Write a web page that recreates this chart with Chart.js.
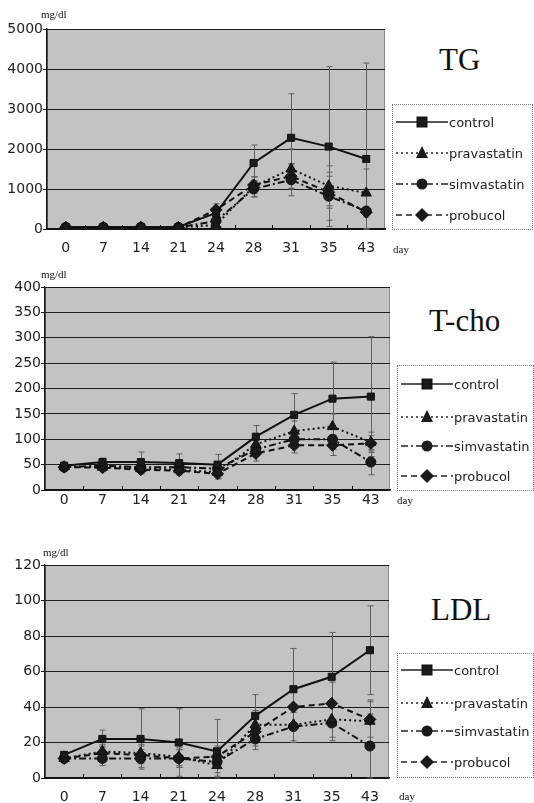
<!DOCTYPE html>
<html><head><meta charset="utf-8">
<script src="https://cdn.jsdelivr.net/npm/chart.js@4/dist/chart.umd.min.js"></script>
<style>
body{margin:0;background:#fff;}
#wrap{position:relative;width:534px;height:803px;overflow:hidden;background:#fff;}
canvas{position:absolute;left:0;}
.t{position:absolute;font-family:'Liberation Serif','DejaVu Serif',serif;color:#111;white-space:nowrap;line-height:1;}
.title{font-size:31px;}
.small{font-size:11px;}
.leg{position:absolute;border:1px dotted #777;box-sizing:border-box;}
.item{position:absolute;left:3px;height:16px;display:flex;align-items:center;white-space:nowrap;font-family:'DejaVu Sans',sans-serif;font-size:13px;color:#222;}
.item svg{flex:none;margin-right:1px;}
</style></head>
<body><div id="wrap">
<canvas id="c1" width="397" height="262" style="top:0px"></canvas>
<canvas id="c2" width="397" height="250" style="top:270px"></canvas>
<canvas id="c3" width="397" height="258" style="top:545px"></canvas>
</div>
<script>
// ---- data ----
const days = ['0','7','14','21','24','28','31','35','43'];
const seriesNames = ['control','pravastatin','simvastatin','probucol'];

const tgControl     = [50, 50, 50, 50, 400, 1650, 2280, 2060, 1750];
const tgPravastatin = [40, 40, 40, 40, 100, 1060, 1500, 1080, 900];
const tgSimvastatin = [40, 40, 40, 40, 200, 1000, 1230, 820, 450];
const tgProbucol    = [40, 40, 40, 40, 480, 1100, 1320, 920, 420];
const tgControlSD     = [20, 20, 20, 20, 150, 450, 1100, 2000, 2400];
const tgPravastatinSD = [10, 10, 10, 10, 80, 250, 500, 500, 600];
const tgSimvastatinSD = [10, 10, 10, 10, 100, 200, 400, 600, 450];
const tgProbucolSD    = [10, 10, 10, 10, 150, 200, 300, 400, 500];

const tchoControl     = [48, 55, 55, 53, 50, 105, 148, 180, 184];
const tchoPravastatin = [46, 45, 42, 40, 35, 90, 116, 125, 94];
const tchoSimvastatin = [45, 48, 45, 45, 42, 80, 100, 100, 55];
const tchoProbucol    = [45, 44, 40, 38, 32, 72, 88, 88, 92];
const tchoControlSD     = [5, 8, 20, 18, 20, 22, 42, 72, 118];
const tchoPravastatinSD = [5, 8, 10, 10, 12, 15, 20, 25, 20];
const tchoSimvastatinSD = [5, 8, 10, 10, 12, 12, 15, 20, 25];
const tchoProbucolSD    = [5, 5, 8, 8, 10, 15, 15, 20, 15];

const ldlControl     = [13, 22, 22, 20, 15, 35, 50, 57, 72];
const ldlPravastatin = [11, 15, 14, 12, 7, 30, 30, 33, 32];
const ldlSimvastatin = [11, 11, 11, 11, 9, 22, 29, 31, 18];
const ldlProbucol    = [11, 14, 13, 11, 12, 26, 40, 42, 33];
const ldlControlSD     = [2, 5, 17, 19, 18, 12, 23, 25, 25];
const ldlPravastatinSD = [2, 4, 5, 5, 6, 8, 10, 10, 12];
const ldlSimvastatinSD = [2, 4, 5, 5, 6, 6, 8, 10, 18];
const ldlProbucolSD    = [2, 4, 5, 5, 6, 8, 10, 12, 10];

const tgTicks = {max: 5000, step: 1000};
const tchoTicks = {max: 400, step: 50};
const ldlTicks = {max: 120, step: 20};

// ---- styles ----
const styles = [
  {dash: [], point: 'rect', r: 5},
  {dash: [2, 3], point: 'triangle', r: 6},
  {dash: [7, 3, 2, 3], point: 'circle', r: 5},
  {dash: [6, 4], point: 'rectRot', r: 6}
];

const bgPlugin = {
  id: 'bg',
  beforeDraw(chart) {
    const a = chart.chartArea, ctx = chart.ctx;
    ctx.save();
    ctx.fillStyle = '#c3c3c3';
    ctx.fillRect(a.left, a.top, a.right - a.left, a.bottom - a.top);
    ctx.strokeStyle = '#8a8a8a';
    ctx.lineWidth = 1;
    ctx.strokeRect(a.left + 0.5, a.top + 0.5, a.right - a.left - 1, a.bottom - a.top);
    ctx.restore();
  }
};

const errPlugin = {
  id: 'err',
  beforeDatasetsDraw(chart) {
    const ctx = chart.ctx, xs = chart.scales.x, ys = chart.scales.y, a = chart.chartArea;
    ctx.save();
    ctx.beginPath();
    ctx.rect(a.left, a.top - 2, a.right - a.left, a.bottom - a.top + 4);
    ctx.clip();
    ctx.strokeStyle = '#5e5e5e';
    ctx.lineWidth = 1;
    chart.data.datasets.forEach(ds => {
      ds.data.forEach((v, i) => {
        const e = ds.errors[i];
        const x = Math.round(xs.getPixelForValue(i)) + 0.5;
        const y1 = ys.getPixelForValue(v + e);
        const y2 = ys.getPixelForValue(Math.max(0, v - e));
        ctx.beginPath();
        ctx.moveTo(x, y1); ctx.lineTo(x, y2);
        ctx.moveTo(x - 3, y1); ctx.lineTo(x + 3, y1);
        ctx.moveTo(x - 3, y2); ctx.lineTo(x + 3, y2);
        ctx.stroke();
      });
    });
    ctx.restore();
  },
  afterDraw(chart) {
    const ctx = chart.ctx, xs = chart.scales.x, a = chart.chartArea;
    ctx.save();
    ctx.strokeStyle = '#111';
    ctx.lineWidth = 1;
    for (let i = 0; i < days.length - 1; i++) {
      const x = Math.round((xs.getPixelForValue(i) + xs.getPixelForValue(i + 1)) / 2) + 0.5;
      ctx.beginPath(); ctx.moveTo(x, a.bottom); ctx.lineTo(x, a.bottom - 4); ctx.stroke();
    }
    ctx.restore();
  }
};

function makeChart(id, H, plotTop, plotBottom, plotRight, plotLeft, ticksCfg, series, sds, tickPad) {
  const W = 397;
  const datasets = series.map((d, i) => ({
    label: seriesNames[i],
    data: d,
    errors: sds[i],
    borderColor: '#111',
    backgroundColor: '#111',
    borderWidth: 2,
    borderDash: styles[i].dash,
    pointStyle: styles[i].point,
    pointRadius: styles[i].r,
    pointBorderWidth: 1,
    pointBorderColor: '#111',
    pointBackgroundColor: '#1a1a1a',
    tension: 0,
    fill: false
  }));
  return new Chart(document.getElementById(id), {
    type: 'line',
    data: {labels: days, datasets},
    plugins: [bgPlugin, errPlugin],
    options: {
      responsive: false,
      animation: false,
      events: [],
      layout: {padding: {top: plotTop, right: W - plotRight, left: 0, bottom: 0}},
      plugins: {legend: {display: false}, tooltip: {enabled: false}},
      scales: {
        x: {
          type: 'category',
          offset: true,
          grid: {display: false, drawTicks: false},
          border: {display: true, color: '#111', width: 1.5},
          ticks: {padding: tickPad, color: '#222', font: {family: 'DejaVu Sans', size: 14}, maxRotation: 0, autoSkip: false},
          afterFit(s) { s.height = H - plotBottom; }
        },
        y: {
          min: 0, max: ticksCfg.max,
          grid: {color: '#1c1c1c', lineWidth: 1, tickLength: 4, drawTicks: true},
          border: {display: true, color: '#111', width: 1.5},
          ticks: {stepSize: ticksCfg.step, padding: 0, color: '#222', font: {family: 'DejaVu Sans', size: 14},
                  callback: v => String(v)},
          afterFit(s) { s.width = plotLeft; }
        }
      }
    }
  });
}

makeChart('c1', 262, 29, 229, 385, 47, tgTicks,
  [tgControl, tgPravastatin, tgSimvastatin, tgProbucol],
  [tgControlSD, tgPravastatinSD, tgSimvastatinSD, tgProbucolSD], 11);
makeChart('c2', 250, 17, 220, 390, 45, tchoTicks,
  [tchoControl, tchoPravastatin, tchoSimvastatin, tchoProbucol],
  [tchoControlSD, tchoPravastatinSD, tchoSimvastatinSD, tchoProbucolSD], 2);
makeChart('c3', 258, 20, 233, 389, 45, ldlTicks,
  [ldlControl, ldlPravastatin, ldlSimvastatin, ldlProbucol],
  [ldlControlSD, ldlPravastatinSD, ldlSimvastatinSD, ldlProbucolSD], 11);

// ---- HTML text: titles, units, legends ----
const wrap = document.getElementById('wrap');
function addText(txt, cls, left, top) {
  const d = document.createElement('div');
  d.className = 't ' + cls;
  d.textContent = txt;
  d.style.left = left + 'px';
  d.style.top = top + 'px';
  wrap.appendChild(d);
}
addText('mg/dl', 'small', 41, 9);
addText('day', 'small', 393, 244);
addText('TG', 'title', 439, 44);
addText('mg/dl', 'small', 41, 269);
addText('day', 'small', 397, 495);
addText('T-cho', 'title', 429, 305);
addText('mg/dl', 'small', 43, 547);
addText('day', 'small', 399, 791);
addText('LDL', 'title', 431, 594);

function markerSvg(i) {
  const dash = styles[i].dash.join(',');
  let m = '';
  if (i === 0) m = '<rect x="21" y="3" width="10" height="10" fill="#1a1a1a" stroke="#111"/>';
  if (i === 1) m = '<polygon points="26,1 32,13 20,13" fill="#1a1a1a"/>';
  if (i === 2) m = '<circle cx="26" cy="8" r="5.5" fill="#1a1a1a"/>';
  if (i === 3) m = '<polygon points="26,1 33,8 26,15 19,8" fill="#1a1a1a"/>';
  return '<svg width="52" height="16" viewBox="0 0 52 16"><line x1="0" y1="8" x2="52" y2="8" stroke="#222" stroke-width="1.5" stroke-dasharray="' + dash + '"/>' + m + '</svg>';
}
function addLegend(left, top, w, h, rows) {
  const box = document.createElement('div');
  box.className = 'leg';
  box.style.left = left + 'px'; box.style.top = top + 'px';
  box.style.width = w + 'px'; box.style.height = h + 'px';
  seriesNames.forEach((n, i) => {
    const it = document.createElement('div');
    it.className = 'item';
    it.style.top = (rows[i] - 8) + 'px';
    it.innerHTML = markerSvg(i) + '<span>' + n + '</span>';
    box.appendChild(it);
  });
  wrap.appendChild(box);
}
addLegend(392, 104, 141, 126, [17, 48, 79, 110]);
addLegend(397, 365, 137, 126, [18, 51, 80, 110]);
addLegend(397, 653, 137, 125, [16, 49, 77, 108]);
</script>
</body></html>
